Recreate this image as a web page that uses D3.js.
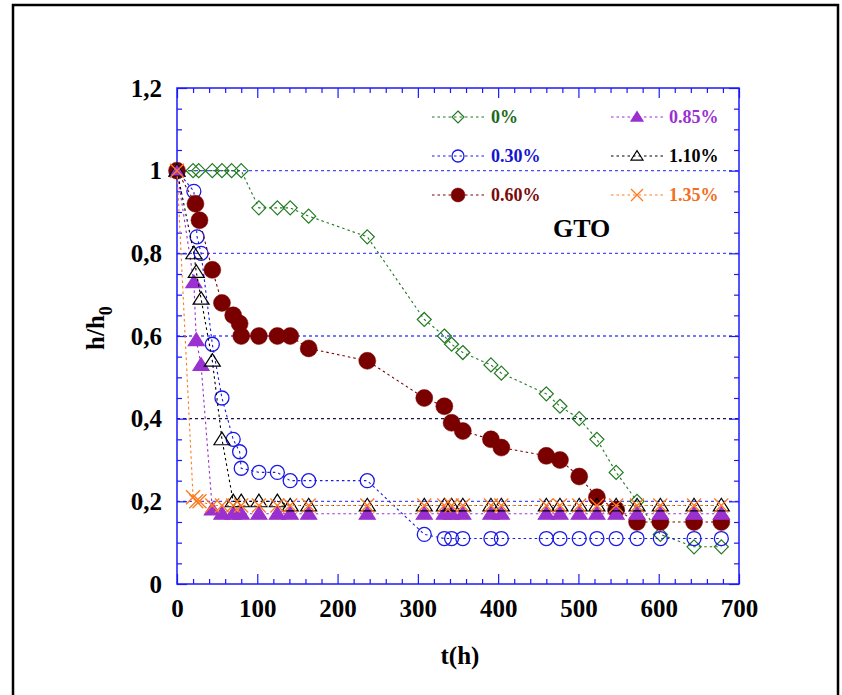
<!DOCTYPE html>
<html lang="en">
  <head>
    <meta charset="utf-8">
    <script src="https://cdn.jsdelivr.net/npm/d3@7"></script>
    <style>
      body { margin: 0; background: #fff; }
      svg text { font-family: "Liberation Serif", "Times New Roman", serif; font-weight: bold; }
    </style>
  </head>
  <body>
    <svg id="chart" width="842" height="695"></svg>
  </body>
  <script>
    // measurement times (h) and h/h0 values, one pair of arrays per series
    var t0   = [0,20,27,44,56,68,80,102,125,141,164,237,308,333,342,356,391,404,460,477,501,523,547,573,602,644,678];
    var v0   = [1,1,1,1,1,1,1,0.91,0.91,0.91,0.89,0.84,0.64,0.60,0.58,0.56,0.53,0.51,0.46,0.43,0.40,0.35,0.27,0.20,0.12,0.09,0.09];

    var t030 = [0,21,25,30,44,56,70,78,80,102,125,141,164,237,308,333,342,356,391,404,460,477,501,523,547,573,602,644,678];
    var v030 = [1,0.95,0.84,0.80,0.58,0.45,0.35,0.32,0.28,0.27,0.27,0.25,0.25,0.25,0.12,0.11,0.11,0.11,0.11,0.11,0.11,0.11,0.11,0.11,0.11,0.11,0.11,0.11,0.11];

    var t060 = [0,23,28,44,56,70,78,80,102,125,141,164,237,308,333,342,356,391,404,460,477,501,523,547,573,602,644,678];
    var v060 = [1,0.92,0.88,0.76,0.68,0.65,0.63,0.60,0.60,0.60,0.60,0.57,0.54,0.45,0.43,0.39,0.37,0.35,0.33,0.31,0.30,0.26,0.21,0.18,0.15,0.15,0.15,0.15];

    var t085 = [0,21,24,30,44,56,70,80,102,125,141,164,237,308,333,342,356,391,404,460,477,501,523,547,573,602,644,678];
    var v085 = [1,0.73,0.59,0.53,0.18,0.17,0.17,0.17,0.17,0.17,0.17,0.17,0.17,0.17,0.17,0.17,0.17,0.17,0.17,0.17,0.17,0.17,0.17,0.17,0.17,0.17,0.17,0.17];

    var t110 = [0,21,24,30,44,56,70,80,102,125,141,164,237,308,333,342,356,391,404,460,477,501,523,547,573,602,644,678];
    var v110 = [1,0.80,0.755,0.69,0.54,0.35,0.20,0.20,0.20,0.20,0.19,0.19,0.19,0.19,0.19,0.19,0.19,0.19,0.19,0.19,0.19,0.19,0.19,0.19,0.19,0.19,0.19,0.19];

    var t135 = [0,20,24,28,44,56,70,80,102,125,141,164,237,308,333,342,356,391,404,460,477,501,523,547,573,602,644,678];
    var v135 = [1,0.21,0.20,0.20,0.19,0.19,0.19,0.19,0.19,0.19,0.19,0.19,0.19,0.19,0.19,0.19,0.19,0.19,0.19,0.19,0.19,0.19,0.19,0.19,0.19,0.19,0.19,0.19];

    var seriesNames = ['0%','0.30%','0.60%','0.85%','1.10%','1.35%'];
    var xTicks = [0,100,200,300,400,500,600,700];
    var yTicks = [0,0.2,0.4,0.6,0.8,1,1.2];
    var yTickLabels = ['0','0,2','0,4','0,6','0,8','1','1,2'];
    var gridValues = [0.2,0.4,0.6,0.8,1];

    var svg = d3.select('#chart');

    // note: "top" is taken by window.top, so use other names
    var pLeft = 177, pRight = 739, pTop = 88, pBottom = 584;
    var x = d3.scaleLinear().domain([0,700]).range([pLeft,pRight]);
    var y = d3.scaleLinear().domain([0,1.2]).range([pBottom,pTop]);

    // outer frame
    svg.append('rect')
      .attr('x',13).attr('y',5).attr('width',825).attr('height',710)
      .attr('fill','none').attr('stroke','#000').attr('stroke-width',2.5);

    // dotted grid lines (the 0.4 one is dark)
    svg.selectAll('line.grid').data(gridValues).enter()
      .append('line')
      .attr('class','grid')
      .attr('x1',pLeft).attr('x2',pRight)
      .attr('y1',function(d){ return y(d); })
      .attr('y2',function(d){ return y(d); })
      .attr('stroke',function(d){ return d === 0.4 ? '#141450' : '#4a4aff'; })
      .attr('stroke-width',1.3)
      .attr('stroke-dasharray','3,3');

    var blue = '#1a1aff';
    function styleAxis(g){
      g.select('.domain').remove();
      g.selectAll('line').attr('stroke',blue).attr('stroke-width',1.2);
      g.selectAll('text').attr('fill','#000').style('font-size','25px')
        .style('font-family','"Liberation Serif", serif').style('font-weight','bold');
    }

    var xMinor = d3.range(0,701,20).filter(function(d){ return d % 100 !== 0; });
    var yMinor = d3.range(0,25).map(function(i){ return i*0.05; })
      .filter(function(d){ return Math.abs(d*5 - Math.round(d*5)) > 1e-6; });

    // bottom axis
    svg.append('g').attr('transform','translate(0,'+pBottom+')')
      .call(d3.axisBottom(x).tickValues(xTicks).tickSize(-10).tickPadding(15).tickFormat(d3.format('d')))
      .call(styleAxis)
      .selectAll('text').attr('dy','0.71em');
    svg.append('g').attr('transform','translate(0,'+pBottom+')')
      .call(d3.axisBottom(x).tickValues(xMinor).tickSize(-5).tickFormat(''))
      .call(styleAxis);
    // top axis
    svg.append('g').attr('transform','translate(0,'+pTop+')')
      .call(d3.axisTop(x).tickValues(xTicks).tickSize(-10).tickFormat(''))
      .call(styleAxis);
    svg.append('g').attr('transform','translate(0,'+pTop+')')
      .call(d3.axisTop(x).tickValues(xMinor).tickSize(-5).tickFormat(''))
      .call(styleAxis);
    // left axis
    svg.append('g').attr('transform','translate('+pLeft+',0)')
      .call(d3.axisLeft(y).tickValues(yTicks).tickSize(-10).tickPadding(15)
        .tickFormat(function(d,i){ return yTickLabels[i]; }))
      .call(styleAxis);
    svg.append('g').attr('transform','translate('+pLeft+',0)')
      .call(d3.axisLeft(y).tickValues(yMinor).tickSize(-5).tickFormat(''))
      .call(styleAxis);
    // right axis
    svg.append('g').attr('transform','translate('+pRight+',0)')
      .call(d3.axisRight(y).tickValues(yTicks).tickSize(-10).tickFormat(''))
      .call(styleAxis);
    svg.append('g').attr('transform','translate('+pRight+',0)')
      .call(d3.axisRight(y).tickValues(yMinor).tickSize(-5).tickFormat(''))
      .call(styleAxis);

    // frame of plot area
    svg.append('rect')
      .attr('x',pLeft).attr('y',pTop).attr('width',pRight-pLeft).attr('height',pBottom-pTop)
      .attr('fill','none').attr('stroke',blue).attr('stroke-width',1.5);

    // marker shapes
    function marker(g, type, color, s){
      if (type === 'diamond') {
        g.append('path').attr('d','M0,'+(-s)+'L'+s+',0L0,'+s+'L'+(-s)+',0Z')
          .attr('fill','none').attr('stroke',color).attr('stroke-width',1.2);
      } else if (type === 'circle') {
        g.append('circle').attr('r',s).attr('fill','none').attr('stroke',color).attr('stroke-width',1.3);
      } else if (type === 'dot') {
        g.append('circle').attr('r',s).attr('fill',color).attr('stroke',color).attr('stroke-width',0.5);
      } else if (type === 'tri' || type === 'trifill') {
        var h = s*0.9;
        g.append('path').attr('d','M0,'+(-h)+'L'+s+','+(h*0.75)+'L'+(-s)+','+(h*0.75)+'Z')
          .attr('fill', type === 'trifill' ? color : 'none')
          .attr('stroke',color).attr('stroke-width',1.2);
      } else if (type === 'x') {
        g.append('path').attr('d','M'+(-s)+','+(-s)+'L'+s+','+s+'M'+(-s)+','+s+'L'+s+','+(-s))
          .attr('fill','none').attr('stroke',color).attr('stroke-width',1.3);
      }
    }

    var series = [
      {name: seriesNames[0], t: t0,   v: v0,   color: '#217a21', text: '#1a6a1a', type: 'diamond', size: 7},
      {name: seriesNames[1], t: t030, v: v030, color: '#1a1ae6', text: '#1414d2', type: 'circle',  size: 7},
      {name: seriesNames[2], t: t060, v: v060, color: '#7a0000', text: '#7a0a0a', type: 'dot',     size: 8.5},
      {name: seriesNames[3], t: t085, v: v085, color: '#9b30d0', text: '#9b30d0', type: 'trifill', size: 8},
      {name: seriesNames[4], t: t110, v: v110, color: '#000000', text: '#000000', type: 'tri',     size: 8},
      {name: seriesNames[5], t: t135, v: v135, color: '#ff7a1e', text: '#f07020', type: 'x',       size: 7}
    ];

    var line = d3.line().x(function(d){ return x(d[0]); }).y(function(d){ return y(d[1]); });

    series.forEach(function(s){
      var pts = s.t.map(function(t,i){ return [t, s.v[i]]; });
      svg.append('path').datum(pts)
        .attr('d',line)
        .attr('fill','none')
        .attr('stroke',s.color)
        .attr('stroke-width',1.1)
        .attr('stroke-dasharray','2.5,3');
      svg.append('g').selectAll('g').data(pts).enter()
        .append('g')
        .attr('transform',function(d){ return 'translate('+x(d[0])+','+y(d[1])+')'; })
        .each(function(){ marker(d3.select(this), s.type, s.color, s.size); });
    });

    // legend, two columns of three
    var legX = [432, 611];
    var legY = [117, 156, 195];
    series.forEach(function(s,i){
      var col = Math.floor(i/3), row = i%3;
      var lx = legX[col], ly = legY[row];
      var g = svg.append('g');
      g.append('line').attr('x1',lx).attr('x2',lx+52).attr('y1',ly).attr('y2',ly)
        .attr('stroke',s.color).attr('stroke-width',1.1).attr('stroke-dasharray','2.5,3');
      var m = g.append('g').attr('transform','translate('+(lx+26)+','+ly+')');
      marker(m, s.type, s.color, s.type === 'dot' ? 7 : 6);
      g.append('text').attr('x', col === 0 ? lx+59 : lx+58).attr('y',ly+6)
        .attr('fill',s.text).style('font-size','18px').text(s.name);
    });

    svg.append('text').attr('x',553).attr('y',237)
      .style('font-size','26px').attr('fill','#000').text('GTO');

    // axis titles
    svg.append('text').attr('x',(pLeft+pRight)/2 + 2).attr('y',664)
      .attr('text-anchor','middle').style('font-size','25px').text('t(h)');
    var yt = svg.append('text')
      .attr('transform','translate(104,328) rotate(-90)')
      .attr('text-anchor','middle').style('font-size','25px');
    yt.append('tspan').text('h/h');
    yt.append('tspan').attr('dy',8).style('font-size','18px').text('0');
  </script>
</html>
